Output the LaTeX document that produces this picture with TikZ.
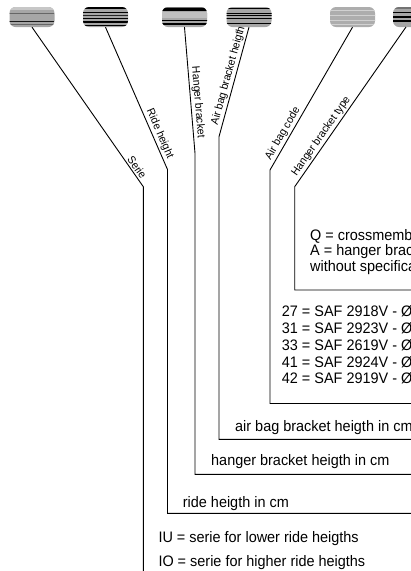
\documentclass[tikz,border=0pt]{standalone}
\usepackage{fontspec}
\setmainfont{Liberation Sans}[FakeStretch=0.95]
\newcommand\pillstripes[2]{%
  \begin{scope}
    \clip[rounded corners=6pt] (#1-22.5,7) rectangle (#1+22.5,27);
    \foreach \yy/\hh/\cc in {#2} {\fill[\cc] (#1-23,7+\yy) rectangle (#1+23,7+\yy+\hh);}
  \end{scope}}
\begin{document}
\begin{tikzpicture}[x=1pt,y=-1pt,
  capsule/.style={minimum width=45pt, minimum height=20pt, inner sep=0pt, rounded corners=6pt, fill=black!35},
  lead/.style={line width=0.9pt, black},
  txt/.style={anchor=base west, inner sep=0pt, font=\fontsize{15.2}{17}\selectfont},
  tag/.style={sloped, above, inner sep=1.5pt, font=\fontsize{11}{12}\selectfont},
]
\useasboundingbox (0,0) rectangle (411,571);
\clip (0,0) rectangle (411,571);
% capsules
\node[capsule] (c1) at (32,17) {};
\node[capsule] (c2) at (105.5,17) {};
\node[capsule] (c3) at (184.5,17) {};
\node[capsule] (c4) at (249,17) {};
\node[capsule, fill=black!32] (c5) at (352.5,17) {};
\node[capsule] (c6) at (415.5,17) {};
\pillstripes{32}{0/2.5/black!22, 6/1/black!60, 13.5/1.6/black!90, 16.5/1.2/black!60}
\pillstripes{105.5}{0/2/black, 4.5/1.2/black, 7.5/1/black!85, 10.8/1.2/black, 14.3/1.2/black, 17.5/1.5/black}
\pillstripes{184.5}{0/1/black!55, 1/3/black, 5/6/black!25, 13/1.2/black, 16.3/1.2/black}
\pillstripes{249}{1/1.2/black, 5.5/1.2/black, 8.3/1/black, 11/1.2/black, 15.5/1.2/black}
\pillstripes{352.5}{3/1.2/black!18, 8/1.2/black!18, 12.5/1.2/black!18, 16.5/1/black!18}
\pillstripes{415.5}{0/1.5/black!55, 4.5/1.5/black, 8.5/2/black, 13/1.5/black}
% bends and ends
\coordinate (t6) at (406,27);
\coordinate (b1) at (143.3,186.7);
\coordinate (e1) at (143.3,575);
\coordinate (b2) at (167.5,169.5);
\coordinate (k2) at (167.5,513.3);
\coordinate (h2) at (415,513.3);
\coordinate (b3) at (195,153.3);
\coordinate (k3) at (195,474.3);
\coordinate (h3) at (415,474.3);
\coordinate (b4) at (219,136.7);
\coordinate (k4) at (219,439.3);
\coordinate (h4) at (415,439.3);
\coordinate (b5) at (270,170);
\coordinate (k5) at (270,403.5);
\coordinate (h5) at (415,403.5);
\coordinate (b6) at (294.7,186.7);
\coordinate (k6) at (294.7,290);
\coordinate (h6) at (415,290);
% leaders
\draw[lead] (c1.south) -- node[tag, pos=0.9] {Serie} (b1) -- (e1);
\draw[lead] (c2.south) -- node[tag, pos=0.77] {Ride height} (b2) -- (k2) -- (h2);
\draw[lead] (c3.south) -- node[tag, pos=0.6] {Hanger bracket} (b3) -- (k3) -- (h3);
\draw[lead] (c4.south) -- node[tag, pos=0.46] {Air bag bracket heigth} (b4) -- (k4) -- (h4);
\draw[lead] (c5.south) -- node[tag, pos=0.77] {Air bag code} (b5) -- (k5) -- (h5);
\draw[lead] (t6) -- node[tag, pos=0.71] {Hanger bracket type} (b6) -- (k6) -- (h6);
% texts
\node[txt] (q) at (310,240) {Q = crossmemb};
\node[txt] (a) at (310,255.5) {A = hanger brac};
\node[txt] (w) at (310,271) {without specifica};
\node[txt] (s27) at (281.7,316.7) {27 = SAF 2918V - Ø};
\node[txt] (s31) at (281.7,333.5) {31 = SAF 2923V - Ø};
\node[txt] (s33) at (281.7,350.3) {33 = SAF 2619V - Ø};
\node[txt] (s41) at (281.7,367.1) {41 = SAF 2924V - Ø};
\node[txt] (s42) at (281.7,383.9) {42 = SAF 2919V - Ø};
\node[txt] (ab) at (235,431.7) {air bag bracket heigth in cm};
\node[txt] (hb) at (211,465.7) {hanger bracket heigth in cm};
\node[txt] (rh) at (182.7,507) {ride heigth in cm};
\node[txt] (iu) at (158.3,542.7) {IU = serie for lower ride heigths};
\node[txt] (io) at (158.3,566) {IO = serie for higher ride heigths};
\end{tikzpicture}
\end{document}
